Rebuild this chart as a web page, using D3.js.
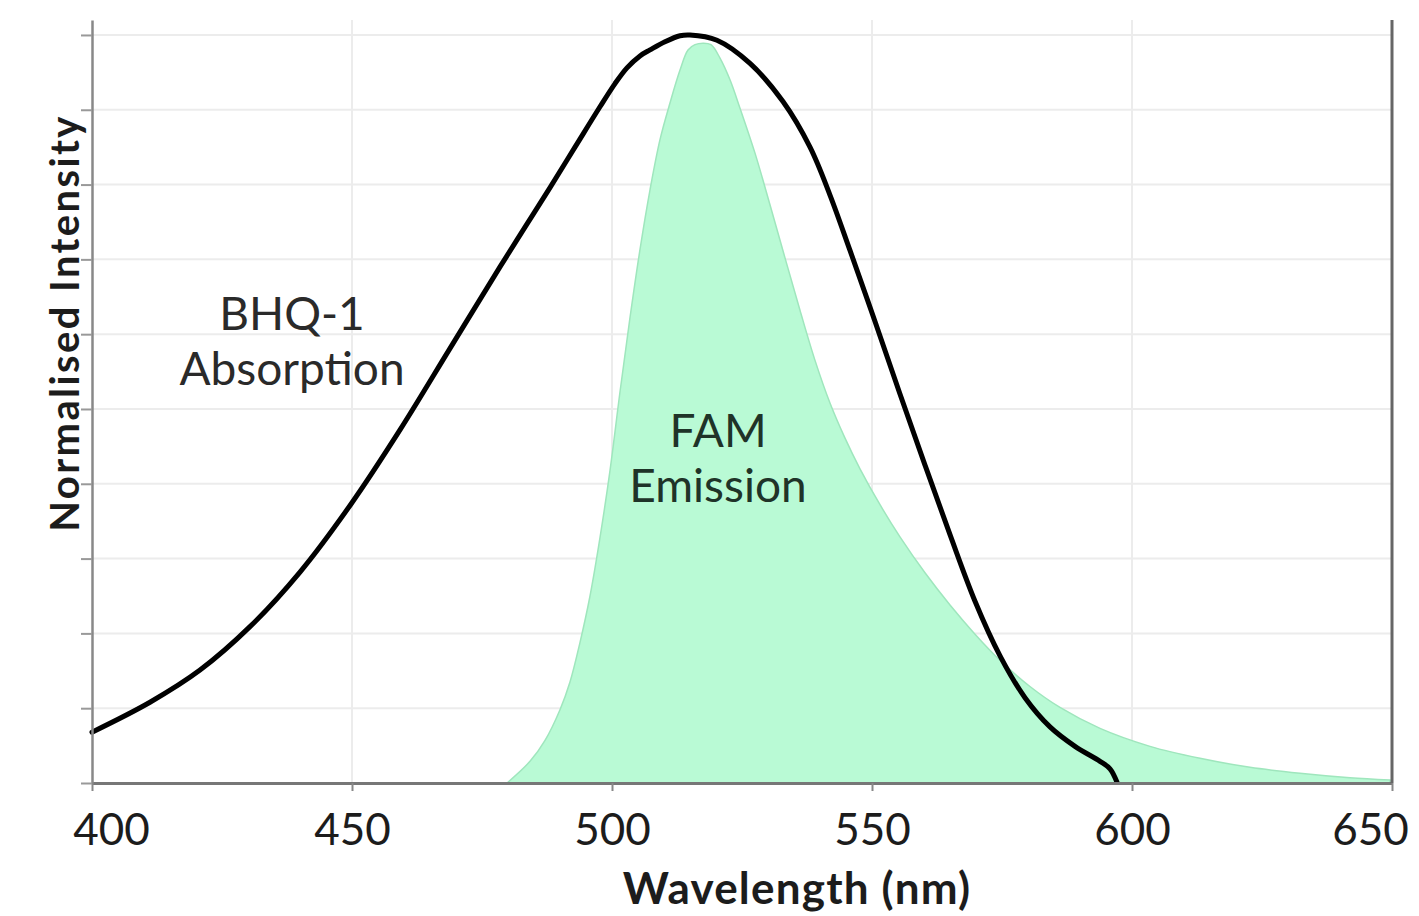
<!DOCTYPE html>
<html>
<head>
<meta charset="utf-8">
<script src="https://cdn.jsdelivr.net/npm/d3@7"></script>
<style>
  body { margin: 0; background: #fff; }
  text { font-family: Lato, "Open Sans", sans-serif; }
</style>
</head>
<body>
<svg id="chart"></svg>
<script>

// BHQ-1 absorption (nm, normalised)
const absWave = [400, 411.15, 420.77, 430.38, 440, 449.62, 459.23, 468.85, 478.46, 483.27, 488.08, 492.88, 497.69, 500.58, 502.88, 505.38, 507.31, 510.19, 513.08, 515,
  520.19, 526.54, 532.88, 538.08, 541.92, 545.77, 550.58, 555.38, 560.19, 565, 569.81, 574.62, 579.42, 584.23, 589.04, 593.85, 595.77, 597.12];
const absVal  = [0.068, 0.108, 0.151, 0.209, 0.282, 0.371, 0.472, 0.581, 0.690, 0.743, 0.796, 0.850, 0.904, 0.935, 0.956, 0.972, 0.980, 0.991, 0.999, 1.0,
  0.993, 0.962, 0.911, 0.850, 0.786, 0.712, 0.617, 0.520, 0.425, 0.332, 0.243, 0.170, 0.114, 0.075, 0.049, 0.029, 0.019, 0.001];

// FAM emission
const emWave = [479.81, 484.23, 487.12, 490, 491.92, 493.85, 495.77, 497.69, 499.62, 501.54, 503.46, 505.38, 507.31, 509.23, 511.15, 513.08, 514.62, 515.96, 517.5, 519.04,
  520.77, 522.69, 524.62, 527.5, 530.38, 533.27, 536.15, 539.04, 541.92, 544.81, 547.69, 551.54, 555.38, 560.19, 565, 569.81, 574.62, 580.38, 586.15, 593.85, 603.46, 613.08, 622.69, 632.31, 641.92, 649.62];
const emVal  = [0, 0.029, 0.057, 0.098, 0.135, 0.188, 0.250, 0.328, 0.418, 0.523, 0.622, 0.713, 0.793, 0.860, 0.909, 0.953, 0.980, 0.987, 0.989, 0.987,
  0.969, 0.940, 0.902, 0.842, 0.773, 0.702, 0.632, 0.565, 0.508, 0.461, 0.420, 0.372, 0.329, 0.281, 0.238, 0.199, 0.164, 0.129, 0.101, 0.073, 0.049, 0.033, 0.021, 0.013, 0.007, 0.004];

const xTicks = [400, 450, 500, 550, 600, 650];
const yTicks = [0, 0.1, 0.2, 0.3, 0.4, 0.5, 0.6, 0.7, 0.8, 0.9, 1.0];

const width = 1419, height = 916;
const svg = d3.select("#chart")
  .attr("width", width)
  .attr("height", height);

svg.append("rect")
  .attr("width", width)
  .attr("height", height)
  .attr("fill", "#fff");

// scales
const x = d3.scaleLinear().domain([400, 650]).range([92, 1392]);
const y = d3.scaleLinear().domain([0, 1.02]).range([783, 20]);

// grid lines
const grid = svg.append("g").attr("class", "grid");
grid.selectAll(".hgrid")
  .data(yTicks.slice(1))
  .enter()
  .append("line")
  .attr("x1", x(400))
  .attr("x2", x(650))
  .attr("y1", d => y(d))
  .attr("y2", d => y(d))
  .attr("stroke", "#ececec")
  .attr("stroke-width", 2);

grid.selectAll(".vgrid")
  .data(xTicks.slice(1, -1))
  .enter()
  .append("line")
  .attr("x1", d => x(d))
  .attr("x2", d => x(d))
  .attr("y1", y(1.02))
  .attr("y2", y(0))
  .attr("stroke", "#ececec")
  .attr("stroke-width", 2);

const absData = absWave.map((w, i) => ({ w: w, v: absVal[i] }));
const emData = emWave.map((w, i) => ({ w: w, v: emVal[i] }));

// FAM emission area
const area = d3.area()
  .x(d => x(d.w))
  .y0(y(0))
  .y1(d => y(d.v))
  .curve(d3.curveCatmullRom.alpha(0.5));

svg.append("path")
  .datum(emData)
  .attr("d", area)
  .attr("fill", "#b9fad5")
  .attr("stroke", "#9fe6bd")
  .attr("stroke-width", 1.5);

// BHQ-1 absorption line
const line = d3.line()
  .x(d => x(d.w))
  .y(d => y(d.v))
  .curve(d3.curveCatmullRom.alpha(0.5));

svg.append("path")
  .datum(absData)
  .attr("d", line)
  .attr("fill", "none")
  .attr("stroke", "#000")
  .attr("stroke-width", 5)
  .attr("stroke-linecap", "round");

// axes
const xAxis = svg.append("g")
  .attr("transform", `translate(0, ${y(0)})`)
  .call(d3.axisBottom(x).tickValues(xTicks).tickSize(8).tickPadding(24).tickSizeOuter(0));

xAxis.select(".domain").attr("stroke", "#777").attr("stroke-width", 3);
xAxis.selectAll(".tick line").attr("stroke", "#888").attr("stroke-width", 2);
xAxis.selectAll(".tick text")
  .attr("fill", "#1c1c1c")
  .style("font-size", "44px")
  .attr("dy", "0.68em");

// edge labels are kept inside the frame
xAxis.selectAll(".tick text")
  .filter(d => d === 400).attr("dx", 19);
xAxis.selectAll(".tick text")
  .filter(d => d === 650).attr("dx", -22);

const yAxis = svg.append("g")
  .attr("transform", `translate(${x(400)}, 0)`)
  .call(d3.axisLeft(y).tickValues(yTicks).tickSize(11).tickFormat("").tickSizeOuter(0));

yAxis.select(".domain").attr("stroke", "#888").attr("stroke-width", 2.5);
yAxis.selectAll(".tick line").attr("stroke", "#999").attr("stroke-width", 2);

// right frame
svg.append("line")
  .attr("x1", x(650))
  .attr("x2", x(650))
  .attr("y1", y(1.02))
  .attr("y2", y(0))
  .attr("stroke", "#666")
  .attr("stroke-width", 3);

// axis titles
svg.append("text")
  .attr("x", 797)
  .attr("y", 904)
  .attr("text-anchor", "middle")
  .attr("fill", "#1c1c1c")
  .style("font-size", "44px")
  .style("font-weight", "bold")
  .style("letter-spacing", "1.2px")
  .text("Wavelength (nm)");

svg.append("text")
  .attr("transform", "translate(79, 323) rotate(-90)")
  .attr("text-anchor", "middle")
  .attr("fill", "#1c1c1c")
  .style("font-size", "40px")
  .style("font-weight", "bold")
  .style("letter-spacing", "2.4px")
  .text("Normalised Intensity");

// curve labels
const labels = [
  { lines: ["BHQ-1", "Absorption"], x: 292, y: 330, color: "#2a2a2a" },
  { lines: ["FAM", "Emission"], x: 718, y: 447, color: "#1f3328" }
];

labels.forEach(l => {
  const t = svg.append("text")
    .attr("text-anchor", "middle")
    .attr("fill", l.color)
    .style("font-size", "46px");
  l.lines.forEach((s, i) => {
    t.append("tspan")
      .attr("x", l.x)
      .attr("y", l.y + i * 55)
      .text(s);
  });
});

</script>
</body>
</html>
